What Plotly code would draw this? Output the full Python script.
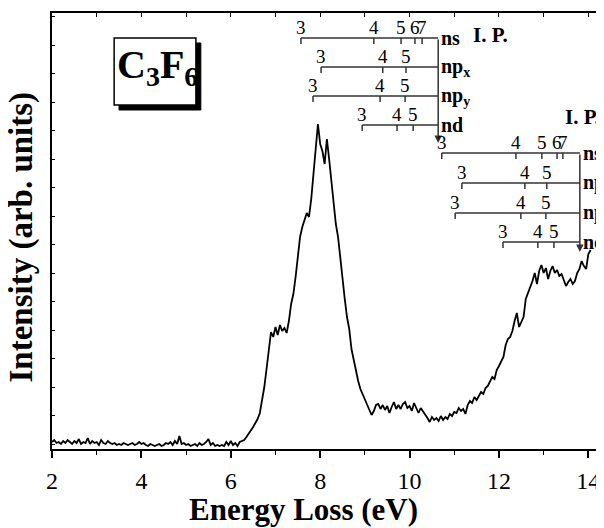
import plotly.graph_objects as go

# ---------------- data ----------------
energy = [
 2.00,2.05,2.10,2.15,2.20,2.25,2.30,2.35,2.40,2.45,2.50,2.55,2.60,2.65,2.70,2.75,2.80,2.85,2.90,2.95,
 3.00,3.05,3.10,3.15,3.20,3.25,3.30,3.35,3.40,3.45,3.50,3.55,3.60,3.65,3.70,3.75,3.80,3.85,3.90,3.95,
 4.00,4.05,4.10,4.15,4.20,4.25,4.30,4.35,4.40,4.45,4.50,4.55,4.60,4.65,4.70,4.75,4.80,4.85,4.90,4.95,
 5.00,5.05,5.10,5.15,5.20,5.25,5.30,5.35,5.40,5.45,5.50,5.55,5.60,5.65,5.70,5.75,5.80,5.85,5.90,5.95,
 6.00,6.05,6.10,6.15,6.20,6.25,6.30,6.35,6.40,6.45,6.50,6.55,6.60,6.65,6.70,6.75,6.80,6.85,6.90,6.95,
 7.00,7.05,7.10,7.15,7.20,7.25,7.30,7.35,7.40,7.45,7.50,7.55,7.60,7.65,7.70,7.75,7.80,7.85,7.90,7.95,
 8.00,8.05,8.10,8.15,8.20,8.25,8.30,8.35,8.40,8.45,8.50,8.55,8.60,8.65,8.70,8.75,8.80,8.85,8.90,8.95,
 9.00,9.05,9.10,9.15,9.20,9.25,9.30,9.35,9.40,9.45,9.50,9.55,9.60,9.65,9.70,9.75,9.80,9.85,9.90,9.95,
 10.00,10.05,10.10,10.15,10.20,10.25,10.30,10.35,10.40,10.45,10.50,10.55,10.60,10.65,10.70,10.75,10.80,10.85,10.90,10.95,
 11.00,11.05,11.10,11.15,11.20,11.25,11.30,11.35,11.40,11.45,11.50,11.55,11.60,11.65,11.70,11.75,11.80,11.85,11.90,11.95,
 12.00,12.05,12.10,12.15,12.20,12.25,12.30,12.35,12.40,12.45,12.50,12.55,12.60,12.65,12.70,12.75,12.80,12.85,12.90,12.95,
 13.00,13.05,13.10,13.15,13.20,13.25,13.30,13.35,13.40,13.45,13.50,13.55,13.60,13.65,13.70,13.75,13.80,13.85,13.90,13.95,
 14.00,14.05]

intensity = [
 7,9,6,7,5,8,6,9,7,5,8,6,10,5,7,6,11,5,8,6,
 7,4,9,6,5,8,6,5,6,4,5,4,6,5,4,5,6,4,5,7,
 5,6,4,3,5,4,3,4,5,3,4,6,5,7,4,8,5,13,5,6,
 4,5,3,4,5,3,6,4,5,7,10,4,6,3,4,3,4,3,7,4,
 8,4,6,3,7,8,9,12,15,19,22,26,30,36,48,62,80,98,117,112,
 122,114,124,118,121,116,128,145,155,172,195,212,222,230,236,232,250,275,300,325,
 305,298,285,310,290,270,245,225,212,190,172,150,132,120,100,88,78,68,60,55,
 50,44,40,34,38,44,45,40,44,39,43,36,42,47,40,44,40,45,47,41,
 43,38,46,40,36,41,38,34,31,27,32,29,31,28,33,29,32,30,35,33,
 37,36,41,38,40,35,44,48,46,52,49,53,57,55,61,63,68,72,70,79,
 83,88,92,104,110,112,118,128,136,122,127,132,150,156,160,168,176,165,178,184,
 176,181,170,178,183,176,179,173,175,168,163,167,170,165,168,176,180,188,183,180,
 195,199]

x_ticks = [2, 4, 6, 8, 10, 12, 14]
x_tick_labels = ["2", "4", "6", "8", "10", "12", "14"]

series_labels = ["ns", "np<sub>x</sub>", "np<sub>y</sub>", "nd"]

# ladder 1 (first ionisation potential)
ip1_energy = 10.64
ip1_arrow_tip = 306
ladder1_y = [411, 382, 353, 324]
ladder1_levels = [[7.57, 9.20, 9.81, 10.12, 10.28],
                  [8.02, 9.40, 9.92],
                  [7.84, 9.34, 9.90],
                  [8.94, 9.72, 10.08]]
ladder1_numbers = [["3", "4", "5", "6", "7"], ["3", "4", "5"], ["3", "4", "5"], ["3", "4", "5"]]

# ladder 2 (second ionisation potential)
ip2_energy = 13.81
ip2_arrow_tip = 197
ladder2_y = [296, 266, 236, 207]
ladder2_levels = [[10.72, 12.38, 12.96, 13.30, 13.43],
                  [11.17, 12.58, 13.07],
                  [11.02, 12.49, 13.05],
                  [12.09, 12.87, 13.23]]
ladder2_numbers = [["3", "4", "5", "6", "7"], ["3", "4", "5"], ["3", "4", "5"], ["3", "4", "5"]]

molecule = "C<sub>3</sub>F<sub>6</sub>"

# ---------------- figure ----------------
FONT = "Liberation Serif"
LADDER_COLOR = "#333333"

fig = go.Figure()
fig.add_trace(go.Scatter(x=energy, y=intensity, mode="lines",
                         line=dict(color="black", width=1.8), showlegend=False,
                         hoverinfo="skip"))
# invisible trace on the top axis so it renders
fig.add_trace(go.Scatter(x=[2, 14], y=[0, 0], xaxis="x2", mode="markers",
                         marker=dict(opacity=0), showlegend=False, hoverinfo="skip"))

shapes = []
annotations = []

def add_ladder(ip_e, tip, ys, levels, numbers, label_shift):
    for k, (yv, lv, nums) in enumerate(zip(ys, levels, numbers)):
        shapes.append(dict(type="line", xref="x", yref="y", x0=lv[0], x1=ip_e, y0=yv, y1=yv,
                           line=dict(color=LADDER_COLOR, width=1.5)))
        for j, (e, n) in enumerate(zip(lv, nums)):
            shapes.append(dict(type="line", xref="x", yref="y", x0=e, x1=e, y0=yv, y1=yv - 6,
                               line=dict(color=LADDER_COLOR, width=1.5)))
            annotations.append(dict(x=e, y=yv, xref="x", yref="y", text=n, showarrow=False,
                                    xanchor="center", yanchor="bottom", yshift=-2,
                                    font=dict(family=FONT, size=19, color="black")))
        annotations.append(dict(x=ip_e, y=yv, xref="x", yref="y", text="<b>%s</b>" % series_labels[k],
                                showarrow=False, xanchor="left", yanchor="middle", xshift=label_shift,
                                font=dict(family=FONT, size=20, color="black")))
    annotations.append(dict(x=ip_e, y=tip, ax=ip_e, ay=ys[0], xref="x", yref="y",
                            axref="x", ayref="y", text="", showarrow=True, arrowhead=2,
                            arrowsize=1, arrowwidth=1.5, arrowcolor=LADDER_COLOR))

add_ladder(ip1_energy, ip1_arrow_tip, ladder1_y, ladder1_levels, ladder1_numbers, 1)
add_ladder(ip2_energy, ip2_arrow_tip, ladder2_y, ladder2_levels, ladder2_numbers, 1)

annotations.append(dict(x=11.37, y=414, xref="x", yref="y", text="<b>I. P.</b>", showarrow=False,
                        xanchor="left", yanchor="middle", font=dict(family=FONT, size=21, color="black")))
annotations.append(dict(x=13.43, y=332, xref="x", yref="y", text="<b>I. P.</b>", showarrow=False,
                        xanchor="left", yanchor="middle", font=dict(family=FONT, size=21, color="black")))

# molecule label box with shadow
shapes.append(dict(type="rect", xref="x", yref="y", x0=3.50, x1=5.33, y0=339, y1=406,
                   fillcolor="black", line=dict(color="black", width=1)))
shapes.append(dict(type="rect", xref="x", yref="y", x0=3.39, x1=5.22, y0=344, y1=411,
                   fillcolor="white", line=dict(color="black", width=1.5)))
annotations.append(dict(x=4.35, y=382, xref="x", yref="y", text="<b>%s</b>" % molecule,
                        showarrow=False, xanchor="center", yanchor="middle",
                        font=dict(family=FONT, size=40, color="black")))

# axis titles
annotations.append(dict(x=0.455, y=0, xref="paper", yref="paper", text="<b>Energy Loss (eV)</b>",
                        showarrow=False, xanchor="center", yanchor="middle", yshift=-60,
                        font=dict(family=FONT, size=31, color="black")))
annotations.append(dict(x=0, y=0.485, xref="paper", yref="paper", text="<b>Intensity (arb. units)</b>",
                        showarrow=False, xanchor="center", yanchor="middle", xshift=-30, textangle=-90,
                        font=dict(family=FONT, size=33, color="black")))

# the page body has an 8px margin, so the figure is offset by 8px
fig.update_layout(
    width=596, height=520,
    margin=dict(l=44, r=0, t=5, b=79),
    paper_bgcolor="white", plot_bgcolor="white",
    shapes=shapes, annotations=annotations,
    xaxis=dict(range=[2, 14.35], tickmode="array", tickvals=x_ticks, ticktext=x_tick_labels,
               ticks="outside", ticklen=7, tickwidth=1.5, tickcolor="black",
               minor=dict(dtick=1, tick0=0, ticks="outside", ticklen=4, tickwidth=1.2, tickcolor="black"),
               showline=True, linecolor="black", linewidth=2, showgrid=False, zeroline=False,
               ticklabelstandoff=2,
               tickfont=dict(family=FONT, size=24, color="black")),
    xaxis2=dict(range=[2, 14.35], overlaying="x", side="top", tickmode="linear", tick0=2, dtick=1,
                ticks="inside", ticklen=4, tickwidth=1, tickcolor="black", showticklabels=False,
                showline=True, linecolor="black", linewidth=2, showgrid=False, zeroline=False),
    yaxis=dict(range=[0, 436], tickmode="linear", tick0=5, dtick=28.5, ticks="inside", ticklen=3,
               tickwidth=1, tickcolor="black", showticklabels=False,
               showline=True, linecolor="black", linewidth=2, showgrid=False, zeroline=False),
)

fig.write_html("out.html")
